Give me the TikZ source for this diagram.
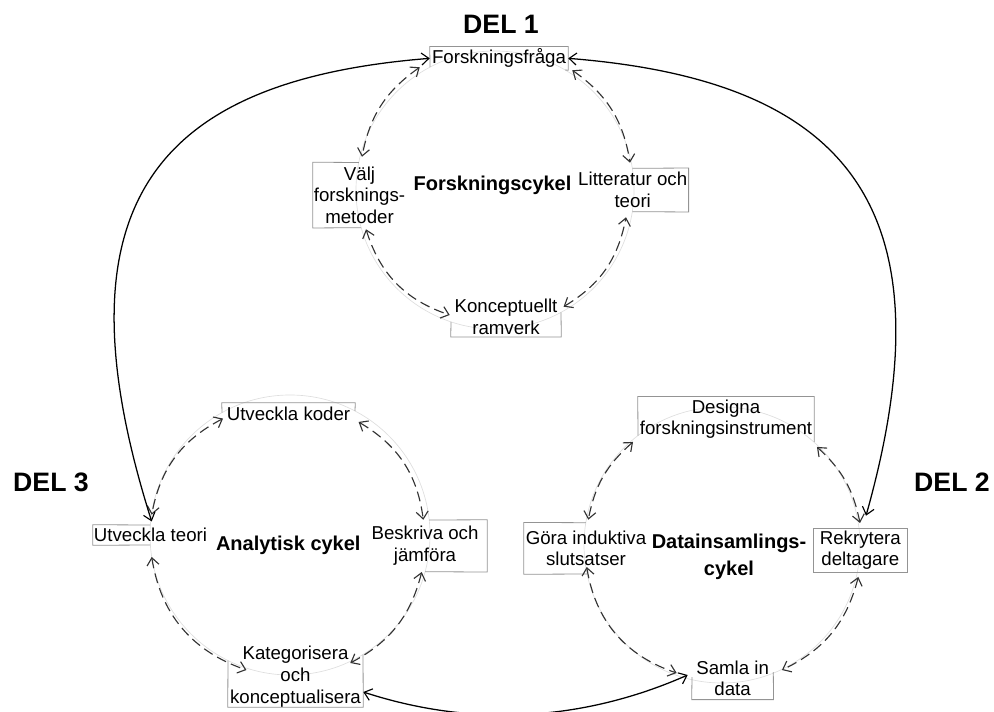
\documentclass[tikz,border=0pt]{standalone}
\usepackage{fontspec}
\setmainfont{Liberation Sans}
\usetikzlibrary{arrows.meta,calc}
\tikzset{
  sz/.style 2 args={minimum width={#1*0.75pt}, minimum height={#2*0.75pt}},
  txt/.style={inner sep=0pt, align=center, font=\fontsize{14}{16.25}\selectfont},
  boxline/.style={draw=black!42, line width=0.6pt, line join=miter},
  cyctitle/.style={inner sep=0pt, align=center, font=\bfseries\fontsize{15}{20}\selectfont},
  parttitle/.style={inner sep=0pt, font=\bfseries\fontsize{20}{24}\selectfont},
  disc/.style={circle, draw=black!13, line width=0.5pt, inner sep=0pt},
  cycarrow/.style={draw=black!80, line width=0.85pt, dash pattern=on 7.5pt off 4pt, <->},
  bigarrow/.style={draw=black, line width=0.95pt, <->},
}
\begin{document}
\begin{tikzpicture}[x=0.75pt,y=-0.75pt,
  >={Straight Barb[length=5.5pt,width=9pt,line width=0.85pt]}]
\useasboundingbox (0,0) rectangle (994,712);

% part headings
\node[parttitle] (del1) at (501,24) {DEL 1};
\node[parttitle] (del2) at (952,482) {DEL 2};
\node[parttitle] (del3) at (51,482) {DEL 3};

% faint circles that carry each cycle
\node[disc, minimum size={278*0.75pt}] (d1) at (495,190) {};
\node[disc, minimum size={280*0.75pt}] (d2) at (290,535) {};
\node[disc, minimum size={276*0.75pt}] (d3) at (722,545) {};

% research cycle
\node[txt, sz={138}{23.3}]  (ff)   at (499,58.35)   {Forskningsfråga};
\node[txt, sz={93}{65.2}]   (valj) at (359.5,195.1) {Välj\\forsknings-\\metoder};
\node[txt, sz={111.3}{43.4}] (litt) at (632.7,190)  {Litteratur och\\teori};
\node[txt, sz={110}{40}]    (konc) at (506,316.7)   {Konceptuellt\\ramverk};
\node[cyctitle] (t1) at (492.5,185) {Forskningscykel};

% analytic cycle
\node[txt, sz={133}{22}]    (koder) at (288.5,414)  {Utveckla koder};
\node[txt, sz={115}{20}]    (teori) at (150.5,535)  {Utveckla teori};
\node[txt, sz={124}{51.7}]  (besk)  at (425,545.9)  {Beskriva och\\jämföra};
\node[txt, sz={135}{60.6}]  (kat)   at (295.5,676.7) {Kategorisera\\och\\konceptualisera};
\node[cyctitle] (t2) at (288.3,545) {Analytisk cykel};

% data collection cycle
\node[txt, sz={176}{45}]    (design) at (726,419.2)  {Designa\\forskningsinstrument};
\node[txt, sz={124}{51.3}]  (gora)   at (586,548.35) {Göra induktiva\\slutsatser};
\node[txt, sz={92.7}{42.7}] (rek)    at (860.3,550.3) {Rekrytera\\deltagare};
\node[txt, sz={81.3}{42.3}] (samla)  at (732.6,678.2) {Samla in\\data};
\node[cyctitle] (t3) at (729,556.7) {Datainsamlings-\\cykel};

% box outlines: only the parts lying outside the cycle circles
\draw[boxline] (430,67.1) -- (ff.north west) -- (ff.north east) -- (ff.south east) -- (565.2,70);
\draw[boxline] (358.8,162.5) -- (valj.north west) -- (valj.south west) -- (361.2,227.7);
\draw[boxline] (632.3,168.3) -- (litt.north east) -- (litt.south east) -- (632.3,211.7);
\draw[boxline] (451,321.9) -- (konc.south west) -- (konc.south east) -- (561,312.3);
\draw[boxline] (222,412.6) -- (koder.north west) -- (koder.north east) -- (355,411);
\draw[boxline] (150.4,525) -- (teori.north west) -- (teori.south west) -- (150.4,545);
\draw[boxline] (429.2,520) -- (besk.north east) -- (besk.south east) -- (425.1,571.7);
\draw[boxline] (228,660.5) -- (kat.south west) -- (kat.south east) -- (363,654.5);
\draw[boxline] (638,435.5) -- (design.north west) -- (design.north east) -- (design.south east);
\draw[boxline] (585.8,522.7) -- (gora.north west) -- (gora.south west) -- (587.1,574);
\draw[boxline] (692,677) -- (samla.south west) -- (samla.south east) -- (773.3,672);
\draw[boxline] (rek.south west) rectangle (rek.north east);

% research cycle arrows
\draw[cycarrow] ($(ff.south west)+(-10,-3)$) to[bend right=22] ($(valj.north)+(2.5,-5.5)$);
\draw[cycarrow] ($(ff.south east)+(4,0)$) to[bend left=23] ($(litt.north)+(-2.7,-5.3)$);
\draw[cycarrow] ($(valj.south)+(6.5,1.3)$) to[bend right=27] ($(konc.west)+(-1,-1.7)$);
\draw[cycarrow] ($(konc.east)+(2.3,-10)$) to[bend right=24] ($(litt.south)+(-6.7,5.3)$);

% analytic cycle arrows
\draw[cycarrow] ($(koder.south west)+(1.3,-6.7)$) to[bend right=26] ($(teori.north)+(1.2,-10)$);
\draw[cycarrow] ($(koder.south east)+(3.3,-3.3)$) to[bend left=26] ($(besk.north)+(-1.7,0)$);
\draw[cycarrow] ($(teori.south)+(1.2,11.7)$) to[bend right=31] ($(kat.west)+(18.7,-6.7)$);
\draw[cycarrow] ($(besk.south)+(-3.3,0)$) to[bend left=24] ($(kat.north east)+(-13,16.9)$);

% data collection cycle arrows
\draw[cycarrow] ($(design.south west)+(-4.7,0)$) to[bend right=19] ($(gora.north)+(2.3,-2.7)$);
\draw[cycarrow] ($(design.south east)+(2.7,5)$) to[bend left=18] ($(rek.north)+(-0.3,-5.7)$);
\draw[cycarrow] ($(gora.south)+(0.7,-7.3)$) to[bend right=31] ($(samla.west)+(-15,-5.2)$);
\draw[cycarrow] ($(rek.south)+(-2,5)$) to[bend left=25] ($(samla.east)+(8.4,-8.2)$);

% links between the three parts
\draw[bigarrow] (ff.west) .. controls (160,80) and (50,200) .. ($(teori.north)+(1.2,-3.3)$);
\draw[bigarrow] (ff.east) .. controls (840,80) and (955,200) .. ($(rek.north)+(5.7,-13)$);
\draw[bigarrow] ($(kat.east)+(0,15.3)$) .. controls (480,730) and (590,718) .. ($(samla.west)+(-4,-3.2)$);
\end{tikzpicture}
\end{document}
